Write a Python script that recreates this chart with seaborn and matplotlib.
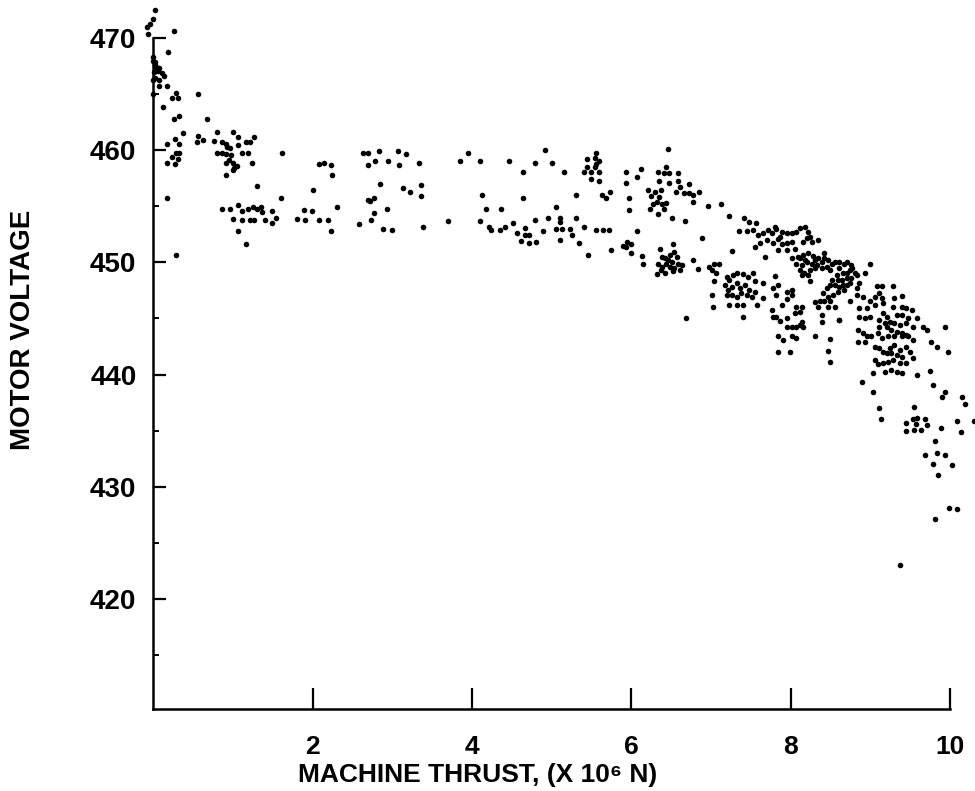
import numpy as np
import pandas as pd
import matplotlib
matplotlib.use("Agg")
import matplotlib.pyplot as plt
import seaborn as sns

# values, grouped by cluster
# near zero thrust, high voltage
g1_thrust = [0.02, 0.0, -0.08, -0.04, -0.06, 0.26, 0.19, 0.0, 0.02, 0.04, 0.01, 0.06, 0.11, 0.14,
             0.03, 0.0, 0.08, 0.07, 0.17, 0.0, 0.03, 0.08, 0.0, 0.24, 0.29, 0.31, 0.12, 0.26, 0.33,
             0.37, 0.28, 0.18, 0.32, 0.29, 0.33, 0.24, 0.31, 0.18, 0.27, 0.18, 0.29]
g1_volt = [472.5, 471.7, 471.0, 471.3, 470.4, 470.6, 468.8, 468.3, 467.9, 467.4, 467.0, 467.1, 466.9, 466.6,
           466.4, 466.3, 466.3, 465.7, 465.7, 468.0, 467.6, 467.3, 465.0, 464.7, 465.1, 464.7, 463.9, 462.8, 463.1,
           461.5, 461.0, 460.6, 460.6, 459.8, 459.8, 459.4, 459.2, 458.9, 458.8, 455.7, 450.7]

# 0.5 - 1.6, upper band
g2_thrust = [0.56, 0.68, 0.56, 0.62, 0.55, 0.80, 0.76, 1.00, 1.06, 0.87, 0.91, 0.93, 0.96, 0.92, 0.86,
             0.80, 0.98, 0.95, 0.92, 1.00, 1.05, 1.02, 1.00, 0.92, 1.06, 1.16, 1.22, 1.26, 1.12, 1.19,
             1.24, 1.62, 1.30]
g2_volt = [465.0, 462.8, 461.3, 460.9, 460.7, 461.6, 460.8, 461.6, 461.2, 460.7, 460.6, 460.3, 460.2, 459.7, 459.8,
           459.8, 459.6, 459.1, 458.9, 458.9, 458.6, 458.4, 458.2, 457.8, 460.5, 460.7, 460.7, 461.2, 459.8, 459.8,
           458.9, 459.8, 456.8]

# 0.8 - 1.6, lower band
g3_thrust = [0.87, 0.97, 1.07, 1.12, 1.19, 1.25, 1.30, 1.35, 1.37, 1.49, 1.54, 1.00, 1.11, 1.21, 1.27,
             1.40, 1.49, 1.07, 1.16, 1.60]
g3_volt = [454.8, 454.8, 455.1, 454.6, 454.8, 454.9, 454.8, 454.9, 454.5, 454.6, 454.0, 453.9, 453.8, 453.8, 453.8,
           453.8, 453.5, 452.8, 451.6, 455.7]

# 1.8 - 3.7
g4_thrust = [1.80, 1.91, 1.89, 1.99, 2.08, 2.20, 2.23, 2.31, 2.00, 2.08, 2.15, 2.23, 2.24, 2.58, 2.73,
             2.77, 2.69, 2.72, 2.77, 2.85, 2.94, 2.89, 3.00, 3.14, 3.22, 3.36, 3.36, 3.38, 3.70, 2.63,
             2.70, 2.84, 3.07, 3.17, 2.78, 2.69, 2.95, 3.08, 3.34]
g4_volt = [453.9, 453.8, 454.7, 454.6, 453.8, 453.8, 452.8, 454.9, 456.5, 458.8, 458.9, 458.7, 457.8, 453.4, 453.8,
           454.4, 455.6, 455.5, 455.7, 457.0, 454.8, 453.0, 452.9, 456.6, 456.3, 456.9, 455.9, 453.2, 453.7, 459.8,
           459.8, 459.9, 459.9, 459.7, 459.0, 458.7, 459.0, 458.7, 458.9]

# 3.8 - 5.8
g5_thrust = [3.85, 3.95, 4.10, 4.46, 4.64, 4.79, 4.92, 5.00, 5.15, 4.12, 4.17, 4.36, 4.10, 4.21, 4.24,
             4.35, 4.41, 4.52, 4.57, 4.62, 4.66, 4.72, 4.71, 4.80, 4.67, 4.79, 4.64, 4.89, 4.95, 5.06,
             5.11, 5.10, 5.06, 5.13, 5.10, 5.23, 5.26, 5.34, 5.31, 5.31, 5.41, 5.45, 5.55, 5.64, 5.72,
             5.63, 5.68, 5.73, 5.44, 5.54, 5.59, 5.56, 5.44, 5.49, 5.54, 5.59, 5.40, 5.49, 5.59, 5.56,
             5.75]
g5_volt = [459.0, 459.8, 459.0, 459.0, 458.1, 458.9, 460.0, 458.9, 458.1, 456.0, 454.8, 454.8, 453.7, 453.2, 452.9,
           452.9, 453.2, 453.5, 452.6, 451.9, 452.4, 452.4, 451.7, 451.8, 453.1, 453.8, 455.7, 452.8, 454.0, 454.9,
           454.0, 453.6, 453.0, 453.0, 452.0, 453.0, 452.4, 451.7, 454.0, 456.0, 453.2, 450.7, 452.9, 452.9, 452.9,
           456.0, 455.7, 456.3, 459.2, 459.3, 459.0, 459.8, 458.5, 458.1, 458.5, 458.1, 458.1, 457.4, 457.3, 458.8,
           451.1]

# 5.9 - 7.2, upper band
g6_thrust = [5.93, 6.12, 5.93, 6.07, 5.97, 5.97, 6.07, 6.46, 6.33, 6.43, 6.41, 6.47, 6.58, 6.35, 6.47,
             6.58, 6.61, 6.56, 6.21, 6.25, 6.29, 6.37, 6.34, 6.32, 6.27, 6.23, 6.38, 6.41, 6.44, 6.33,
             6.51, 6.67, 6.66, 6.72, 6.72, 6.77, 6.77, 6.85, 6.96, 7.13, 7.22]
g6_volt = [458.1, 458.3, 457.1, 457.6, 455.7, 454.7, 452.8, 460.1, 458.1, 458.5, 458.0, 458.0, 458.0, 457.3, 457.1,
           457.3, 456.7, 456.3, 456.5, 455.9, 456.3, 456.5, 455.8, 455.4, 455.2, 454.8, 455.2, 454.8, 455.3, 454.3,
           454.0, 453.7, 456.2, 457.0, 456.2, 456.0, 455.4, 456.3, 455.0, 455.2, 454.1]

# 5.9 - 7.3, cluster near 450 V
g7_thrust = [5.89, 5.94, 6.00, 6.00, 5.93, 6.13, 6.15, 6.36, 6.52, 6.38, 6.42, 6.48, 6.44, 6.51, 6.57,
             6.58, 6.54, 6.61, 6.63, 6.33, 6.32, 6.42, 6.52, 6.48, 6.39, 6.46, 6.53, 6.37, 6.77, 6.83,
             6.88, 6.69, 7.26]
g7_volt = [451.5, 451.8, 451.6, 450.8, 451.4, 450.6, 449.9, 451.2, 451.6, 450.5, 450.4, 450.7, 449.9, 450.0, 450.5,
           449.9, 449.5, 449.3, 449.8, 449.9, 449.0, 449.1, 449.2, 449.6, 449.6, 450.2, 450.9, 449.3, 450.2, 449.4,
           452.2, 445.0, 451.0]

# 7.0 - 8.6, cluster near 447 V and the spread below it
g8_thrust = [6.97, 7.04, 7.10, 7.01, 7.06, 7.04, 7.01, 7.02, 7.20, 7.23, 7.27, 7.33, 7.40, 7.46, 7.52,
             7.55, 7.17, 7.21, 7.26, 7.32, 7.36, 7.42, 7.48, 7.55, 7.20, 7.26, 7.33, 7.38, 7.45, 7.51,
             7.40, 7.32, 7.23, 7.57, 7.40, 7.65, 7.80, 7.77, 7.84, 7.82, 7.95, 7.89, 7.95, 7.76, 7.77,
             7.82, 7.86, 7.95, 7.65, 8.02, 8.02, 8.07, 8.14, 8.11, 8.05, 7.95, 8.02, 8.07, 8.11, 8.15,
             8.14, 7.84, 7.90, 8.01, 8.06, 7.84, 7.99, 8.30, 8.49, 8.46, 8.49, 8.60]
g8_volt = [449.6, 449.9, 449.9, 449.3, 449.1, 448.3, 447.1, 446.0, 448.7, 448.4, 448.9, 449.1, 449.0, 448.7, 449.1,
           448.3, 448.0, 447.5, 447.8, 448.2, 447.7, 448.0, 447.5, 447.4, 447.1, 447.1, 446.9, 447.3, 447.1, 446.9,
           446.2, 446.2, 446.2, 446.2, 445.1, 448.2, 448.8, 447.7, 448.0, 447.1, 447.4, 446.2, 446.7, 445.8, 445.1,
           445.1, 444.8, 445.0, 446.8, 447.5, 447.1, 446.0, 446.0, 445.6, 445.5, 444.2, 444.2, 444.2, 444.4, 444.2,
           444.7, 443.4, 443.1, 443.4, 443.3, 442.0, 442.0, 443.4, 443.2, 442.1, 441.1, 444.9]

# 7.3 - 8.4, band near 452 V
g9_thrust = [7.41, 7.47, 7.56, 7.35, 7.45, 7.52, 7.59, 7.65, 7.71, 7.76, 7.82, 7.89, 7.95, 7.55, 7.61,
             7.70, 7.77, 7.84, 7.89, 7.95, 7.67, 7.84, 7.95, 7.80, 8.01, 7.86, 8.01, 8.07, 8.11, 8.18,
             8.21, 8.24, 8.15, 8.20, 8.27, 8.34, 8.05]
g9_volt = [454.0, 453.6, 453.5, 452.8, 452.8, 452.9, 452.4, 452.6, 452.9, 452.6, 453.0, 452.7, 452.6, 451.4, 451.7,
           452.0, 451.7, 452.1, 451.6, 451.7, 450.5, 451.1, 451.1, 453.2, 452.6, 452.3, 451.8, 452.7, 453.1, 453.2,
           452.7, 452.3, 451.8, 452.2, 451.8, 452.0, 451.2]

# 8.0 - 8.6, cluster near 450 V
g10_thrust = [8.02, 8.09, 8.15, 8.21, 8.28, 8.34, 8.39, 8.42, 8.46, 8.51, 8.55, 8.07, 8.14, 8.20, 8.26,
              8.33, 8.11, 8.17, 8.24, 8.30, 8.39, 8.45, 8.21, 8.14, 8.49, 8.42, 8.24, 8.18, 8.30, 8.11]
g10_volt = [450.4, 450.5, 450.7, 450.8, 450.6, 450.4, 450.0, 450.4, 450.2, 449.9, 450.0, 449.9, 449.8, 450.0, 449.9,
            449.8, 449.3, 449.1, 449.3, 449.5, 449.5, 449.6, 448.9, 448.9, 449.3, 450.8, 448.3, 450.2, 450.2, 450.4]

# 8.3 - 9.0, cluster near 448 V
g11_thrust = [8.61, 8.67, 8.71, 8.76, 8.77, 8.80, 8.83, 8.74, 8.70, 8.65, 8.61, 8.58, 8.64, 8.70, 8.76,
              8.71, 8.67, 8.61, 8.55, 8.51, 8.49, 8.45, 8.40, 8.46, 8.53, 8.59, 8.49, 8.42, 8.55, 8.46,
              8.36, 8.34, 8.30, 8.39, 8.39, 8.61, 8.74, 8.83, 8.93, 8.99, 8.83, 8.86, 8.59, 8.65, 8.74]
g11_volt = [450.0, 449.9, 450.0, 449.8, 449.5, 449.1, 448.9, 449.3, 449.1, 449.1, 449.5, 448.9, 448.4, 448.6, 448.6,
            448.0, 447.5, 447.8, 448.0, 448.4, 448.0, 447.7, 447.3, 446.9, 447.1, 447.4, 446.6, 446.6, 446.0, 446.0,
            446.6, 446.0, 446.5, 445.3, 444.7, 444.9, 446.6, 447.7, 449.1, 449.9, 447.1, 448.2, 448.4, 448.0, 448.2]

# 8.8 - 10.2, cluster near 443 V
g12_thrust = [9.08, 9.14, 9.28, 9.05, 9.11, 9.14, 8.90, 8.99, 8.86, 8.95, 9.05, 9.15, 9.30, 9.40, 9.28,
              9.39, 9.45, 9.52, 9.58, 9.47, 9.40, 9.33, 9.15, 9.20, 9.11, 9.18, 9.24, 9.30, 9.37, 9.45,
              9.53, 9.66, 9.71, 9.11, 9.20, 9.26, 9.33, 9.39, 9.45, 8.86, 8.93, 8.99, 8.84, 8.90, 8.95,
              9.01, 8.84, 8.93, 9.09, 9.14, 9.22, 9.30, 9.39, 9.47, 9.53, 9.05, 9.11, 9.15, 9.20, 9.26,
              9.33, 9.39, 9.45, 9.49, 9.53, 9.45, 9.37, 9.28, 9.22, 9.15, 9.05, 9.09, 9.18, 9.26, 9.33,
              9.40, 9.03, 8.89, 9.03, 9.58, 9.74, 9.78, 9.89, 9.93, 10.15, 9.76, 9.83, 9.97, 9.93, 9.24,
              9.30, 9.37]
g12_volt = [447.9, 447.9, 447.9, 446.9, 447.3, 446.8, 446.9, 446.6, 445.9, 445.9, 446.2, 446.4, 446.8, 447.0, 446.0,
            446.0, 445.9, 445.8, 445.0, 445.0, 445.3, 445.3, 445.5, 445.1, 444.9, 444.6, 444.7, 444.6, 444.4, 444.6,
            444.2, 444.2, 444.0, 444.2, 444.2, 444.0, 443.8, 443.7, 443.5, 445.1, 445.0, 445.1, 444.0, 443.7, 443.4,
            443.4, 442.9, 442.9, 443.7, 443.3, 443.4, 443.4, 443.4, 443.4, 443.1, 442.5, 442.4, 442.0, 441.9, 441.9,
            441.7, 441.6, 442.5, 442.0, 441.5, 441.0, 441.0, 441.3, 441.1, 441.0, 441.3, 440.9, 440.2, 440.4, 440.2,
            440.1, 440.1, 439.3, 438.4, 440.0, 440.3, 439.1, 438.0, 438.4, 438.0, 442.9, 442.5, 442.0, 444.2, 442.4,
            442.6, 442.2]

# 9.1 - 10.3, falling tail
g13_thrust = [9.11, 9.13, 9.54, 10.19, 9.45, 9.53, 9.58, 9.57, 9.68, 9.71, 9.45, 9.54, 9.63, 9.88, 9.81,
              9.83, 9.93, 9.68, 9.78, 10.02, 9.84, 10.09, 10.13, 10.30, 9.99, 10.08, 9.81, 9.37]
g13_volt = [437.0, 436.0, 437.1, 437.4, 435.7, 436.0, 436.1, 435.6, 436.0, 435.5, 435.0, 435.1, 435.1, 435.2, 434.1,
            433.0, 432.8, 432.8, 432.0, 431.9, 431.0, 435.9, 434.9, 435.9, 428.1, 428.0, 427.1, 423.0]

x_ticks = [2, 4, 6, 8, 10]
y_ticks = [420, 430, 440, 450, 460, 470]
y_minor = [415, 425, 435, 445, 455, 465]

thrust = np.concatenate([g1_thrust, g2_thrust, g3_thrust, g4_thrust, g5_thrust, g6_thrust, g7_thrust,
                         g8_thrust, g9_thrust, g10_thrust, g11_thrust, g12_thrust, g13_thrust])
volt = np.concatenate([g1_volt, g2_volt, g3_volt, g4_volt, g5_volt, g6_volt, g7_volt,
                       g8_volt, g9_volt, g10_volt, g11_volt, g12_volt, g13_volt])
df = pd.DataFrame({"thrust": thrust, "voltage": volt})

sns.set_style("white")
plt.rcParams['font.family'] = ['Liberation Sans', 'DejaVu Sans']
plt.rcParams['font.weight'] = 'bold'
plt.rcParams['text.color'] = 'black'
plt.rcParams['xtick.color'] = 'black'
plt.rcParams['ytick.color'] = 'black'

fig = plt.figure(figsize=(9.75, 7.91), dpi=100)
ax = fig.add_axes([0.157, 0.104, 0.843, 0.896])

sns.scatterplot(data=df, x="thrust", y="voltage", color="black", s=16, linewidth=0, ax=ax)
ax.collections[0].set_clip_on(False)

ax.set_xlim(0, 10.31)
ax.set_ylim(410.2, 473.4)
ax.spines['top'].set_visible(False)
ax.spines['right'].set_visible(False)
ax.spines['left'].set_bounds(410.2, 470)
ax.spines['bottom'].set_bounds(0, 10)
for s in ['left', 'bottom']:
    ax.spines[s].set_linewidth(1.8)
    ax.spines[s].set_color('black')

ax.set_xticks(x_ticks)
ax.set_yticks(y_ticks)
ax.set_yticks(y_minor, minor=True)
ax.tick_params(axis='x', bottom=True, direction='in', length=15, width=1.6, pad=19, labelsize=19,
               labelcolor='black')
ax.tick_params(axis='y', left=True, direction='in', length=9, width=1.6, pad=12, labelsize=20,
               labelcolor='black')
ax.tick_params(axis='y', which='minor', left=True, direction='in', length=4, width=1.4)
for lab in ax.get_xticklabels() + ax.get_yticklabels():
    lab.set_fontweight('bold')

ax.set_xlabel("")
ax.set_ylabel("")
fig.text(0.49, 0.011, "MACHINE THRUST, (X 10\u2076 N)", ha='center', va='baseline',
         fontsize=19, fontweight='bold', color='black')
fig.text(0.024, 0.583, "MOTOR VOLTAGE", rotation=90, ha='center', va='center',
         fontsize=20, fontweight='bold', color='black')

fig.savefig("out.png", dpi=100)
